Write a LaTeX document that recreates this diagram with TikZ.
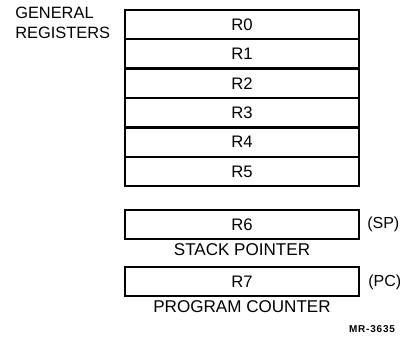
\documentclass[tikz,border=0pt]{standalone}
\usepackage{fontspec}
\setmainfont{Liberation Sans}
\newfontfamily\decfont[LetterSpace=8]{Liberation Sans}
\usetikzlibrary{positioning}

\tikzset{
  regbox/.style={draw, line width=0.8pt, minimum width=175.5pt, minimum height=21.3pt,
    inner sep=0pt, font=\fontsize{12.5}{13}\selectfont},
  lbl/.style={inner sep=0pt, font=\fontsize{12.8}{15}\selectfont}
}

\begin{document}
\begin{tikzpicture}[x=0.75pt,y=-0.75pt,node distance=0pt]
  \useasboundingbox (0,0) rectangle (400,344);

  % general registers
  \node[lbl, anchor=north west, align=left, font=\fontsize{12.3}{15}\selectfont] (gen) at (15,7) {GENERAL\\REGISTERS};
  \node[regbox] (r0) at (242,24.3) {R0};
  \node[regbox] (r1) [below=of r0] {R1};
  \node[regbox] (r2) [below=of r1] {R2};
  \node[regbox] (r3) [below=of r2] {R3};
  \node[regbox] (r4) [below=of r3] {R4};
  \node[regbox] (r5) [below=of r4] {R5};
  \draw[line width=1.4pt] (r0.north west) rectangle (r5.south east);

  % stack pointer and program counter
  \node[regbox, line width=1.4pt] (r6) at (242,224.5) {R6};
  \node[lbl] (sp) [below=2.5pt of r6] {STACK POINTER};
  \node[lbl, anchor=west, font=\fontsize{12}{13}\selectfont] (spx) at (367,224) {(SP)};

  \node[regbox, line width=1.4pt] (r7) at (242,281.5) {R7};
  \node[lbl] (pc) [below=3pt of r7] {PROGRAM COUNTER};
  \node[lbl, anchor=west, font=\fontsize{12}{13}\selectfont] (pcx) at (368,282) {(PC)};

  \node[inner sep=0pt, font=\decfont\bfseries\fontsize{7.5}{8}\selectfont] (mr) at (372,329) {MR-3635};
\end{tikzpicture}
\end{document}
